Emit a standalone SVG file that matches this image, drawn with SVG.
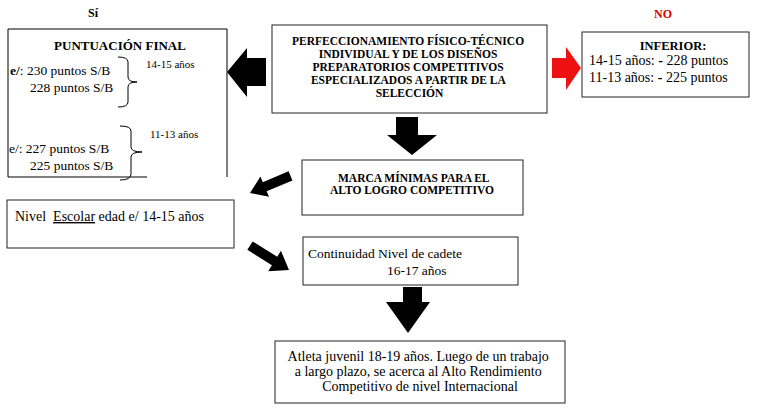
<svg xmlns="http://www.w3.org/2000/svg" width="757" height="409" viewBox="0 0 757 409">
<style>
.box{fill:#fff;stroke:#222;stroke-width:1}
.t{font-family:"Liberation Serif","Times New Roman",serif;font-size:13.5px;fill:#000}
.b{font-family:"Liberation Serif","Times New Roman",serif;font-weight:bold;font-size:11.5px;fill:#000}
.sm{font-family:"Liberation Serif","Times New Roman",serif;font-size:11px;fill:#000}
.arr{fill:#000}
.br{fill:none;stroke:#000;stroke-width:1}
</style>
<defs>
<clipPath id="c1"><rect x="0" y="29" width="240" height="148.5"/></clipPath>
</defs>
<rect width="757" height="409" fill="#fff"/>
<text class="b" x="88" y="17" style="font-size:12px">Sí</text>
<text class="b" x="654" y="18" style="font-size:12px;fill:#e00000">NO</text>

<g id="puntuacion">
<path class="br" d="M8,177 V29 H227 V177 M8,177 H147"/>
<text class="b" x="120" y="50" text-anchor="middle" style="font-size:13px">PUNTUACIÓN FINAL</text>
<g clip-path="url(#c1)">
<text class="t" x="10" y="75"><tspan font-weight="bold">e/</tspan>: 230 puntos S/B</text>
<text class="t" x="30" y="92">228 puntos S/B</text>
<text class="t" x="9" y="153">e/: 227 puntos S/B</text>
<text class="t" x="30" y="170">225 puntos S/B</text>
</g>
<path class="br" d="M118,57 Q128,57 128,62 V77 Q128,82 137,82 Q128,82 128,87 V102 Q128,107 118,107"/>
<text class="sm" x="146" y="68">14-15 años</text>
<path class="br" d="M120,126 Q131,126 131,131 V147 Q131,152 142,152 Q131,152 131,157 V174 Q131,180 120,180"/>
<text class="sm" x="150" y="138">11-13 años</text>
</g>

<g id="perfeccionamiento">
<rect class="box" x="272" y="25" width="275" height="88"/>
<text class="b" x="409.5" text-anchor="middle">
<tspan x="409.5" y="45">PERFECCIONAMIENTO FÍSICO-TÉCNICO</tspan>
<tspan x="409.5" y="58">INDIVIDUAL Y DE LOS DISEÑOS</tspan>
<tspan x="409.5" y="71">PREPARATORIOS COMPETITIVOS</tspan>
<tspan x="409.5" y="84">ESPECIALIZADOS A PARTIR DE LA</tspan>
<tspan x="409.5" y="97">SELECCIÓN</tspan>
</text>
</g>

<g id="inferior">
<rect class="box" x="582" y="32" width="167" height="65"/>
<text class="b" x="673" y="50" text-anchor="middle" style="font-size:12.5px">INFERIOR:</text>
<text class="t" x="589" y="65" style="font-size:14px">14-15 años: <tspan font-weight="bold">-</tspan> 228 puntos</text>
<text class="t" x="589" y="82" style="font-size:14px">11-13 años: <tspan font-weight="bold">-</tspan> 225 puntos</text>
</g>

<g id="marca">
<rect class="box" x="302" y="160" width="221" height="55"/>
<text class="b" x="338" y="182">MARCA MÍNIMAS PARA EL</text>
<text class="b" x="330" y="194">ALTO LOGRO COMPETITIVO</text>
</g>

<g id="escolar">
<rect class="box" x="7" y="200" width="227" height="48"/>
<text class="t" x="15" y="221" style="font-size:14px">Nivel&#160; <tspan text-decoration="underline">Escolar</tspan> edad e/ 14-15 años</text>
</g>

<g id="cadete">
<rect class="box" x="303" y="237" width="215" height="48"/>
<text class="t" x="308" y="258">Continuidad Nivel de cadete</text>
<text class="t" x="387" y="275">16-17 años</text>
</g>

<g id="juvenil">
<rect class="box" x="275" y="341" width="290" height="62"/>
<text class="t" text-anchor="middle" style="font-size:14px">
<tspan x="420" y="361">Atleta juvenil 18-19 años. Luego de un trabajo</tspan>
<tspan x="420" y="376">a largo plazo, se acerca al Alto Rendimiento</tspan>
<tspan x="420" y="391">Competitivo de nivel Internacional</tspan>
</text>
</g>

<g id="connectors">
<polygon class="arr" points="227,72 247,48 247,58 266,58 266,86 247,86 247,97"/>
<polygon points="581,68 566,47 566,58 552,58 552,78 566,78 566,90" fill="#ee1111"/>
<polygon class="arr" points="396,117 418,117 418,135 437,135 412,155 387,135 396,135"/>
<polygon class="arr" points="403,287 422,287 422,302 430,302 408,333 386,302 403,302"/>
<polygon class="arr" points="-44,-5 -16,-5 -16,-11 0,0 -16,11 -16,5 -44,5" transform="translate(250,193) rotate(157)"/>
<polygon class="arr" points="-46,-5 -17,-5 -17,-12 0,0 -17,12 -17,5 -46,5" transform="translate(289,270) rotate(32)"/>
</g>
</svg>
